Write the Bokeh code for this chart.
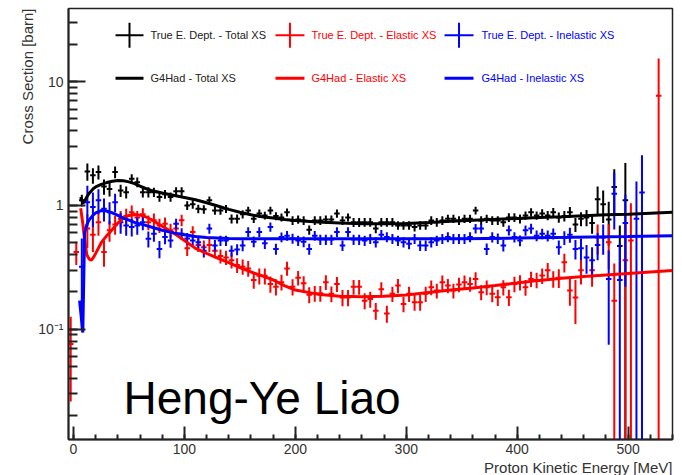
import numpy as np
from bokeh.plotting import figure
from bokeh.models import Range1d, LogTicker, SingleIntervalTicker, CustomJSTickFormatter, Label, Title
from bokeh.embed import file_html
from bokeh.resources import INLINE

FONT = "Liberation Sans"

# ---------------- data ----------------
bin_half_width = 2.5
energy = [-2.5 + 5.0 * i for i in range(107)]  # bin centres [MeV]

total_xs = [None, None, 1.10, 1.88, 1.75, 1.86, 1.42, 1.36, 1.86, 1.32,
            1.28, 1.64, 1.54, 1.28, 1.28, 1.28, 1.17, 1.23, 1.17, 1.30,
            1.30, 1.00, 1.02, 0.94, 0.93, 1.10, 0.91, 0.91, 0.94, 0.78,
            0.78, 0.85, 0.91, 0.78, 0.86, 0.83, 0.91, 0.82, 0.80, 0.88,
            0.756, 0.77, 0.756, 0.635, 0.756, 0.756, 0.77, 0.77, 0.86, 0.756,
            0.80, 0.73, 0.73, 0.733, 0.733, 0.65, 0.733, 0.733, 0.733, 0.69,
            0.69, 0.69, 0.67, 0.69, 0.69, 0.756, 0.733, 0.756, 0.78, 0.78,
            0.756, 0.78, 0.78, 0.91, 0.756, 0.78, 0.756, 0.756, 0.733, 0.80,
            0.80, 0.78, 0.83, 0.88, 0.83, 0.86, 0.83, 0.88, 0.80, 0.82,
            0.88, 0.70, 0.78, 0.80, 0.72, 1.12, 1.02, 0.77, 1.41, 0.47,
            1.10, None, None, None, None, None, None]
total_err = [None, None, 0.12, 0.30, 0.25, 0.24, 0.20, 0.18, 0.20, 0.15,
             0.14, 0.15, 0.14, 0.12, 0.12, 0.11, 0.10, 0.10, 0.10, 0.10,
             0.10, 0.08, 0.08, 0.075, 0.075, 0.08, 0.07, 0.07, 0.07, 0.065,
             0.065, 0.065, 0.065, 0.06, 0.065, 0.06, 0.065, 0.06, 0.06, 0.065,
             0.06, 0.06, 0.06, 0.055, 0.06, 0.06, 0.06, 0.06, 0.065, 0.06,
             0.06, 0.06, 0.06, 0.06, 0.06, 0.055, 0.06, 0.06, 0.06, 0.055,
             0.055, 0.055, 0.055, 0.055, 0.055, 0.06, 0.06, 0.06, 0.06, 0.06,
             0.06, 0.06, 0.06, 0.065, 0.06, 0.06, 0.06, 0.06, 0.06, 0.065,
             0.065, 0.065, 0.065, 0.07, 0.065, 0.07, 0.07, 0.075, 0.075, 0.08,
             0.09, 0.09, 0.10, 0.12, 0.13, 0.30, 0.30, 0.30, 0.55, 0.22,
             1.10, None, None, None, None, None, None]

elastic_xs = [0.076, 0.42, None, 0.65, 0.58, 0.73, 0.42, 0.63, 0.70, 0.78,
              0.82, 0.88, 0.80, 0.85, 0.73, 0.76, 0.69, 0.71, 0.63, 0.65,
              0.76, 0.45, 0.61, 0.48, 0.46, 0.48, 0.43, 0.39, 0.38, 0.36,
              0.33, 0.32, 0.31, 0.25, 0.27, 0.27, 0.232, 0.22, 0.24, 0.31,
              0.22, 0.26, 0.235, 0.19, 0.195, 0.195, 0.24, 0.193, 0.232, 0.18,
              0.18, 0.22, 0.22, 0.17, 0.175, 0.141, 0.21, 0.134, 0.193, 0.225,
              0.16, 0.193, 0.165, 0.165, 0.193, 0.218, 0.205, 0.239, 0.225, 0.205,
              0.23, 0.239, 0.232, 0.255, 0.199, 0.218, 0.193, 0.181, 0.218, 0.181,
              0.232, 0.239, 0.218, 0.255, 0.25, 0.271, 0.30, 0.255, 0.26, 0.347,
              0.205, 0.18, 0.30, None, 0.30, 0.55, None, 0.505, 0.17, None,
              0.36, 0.52, None, None, None, None, 7.7]
elastic_err = [0.05, 0.09, None, 0.20, 0.16, 0.16, 0.10, 0.12, 0.12, 0.12,
               0.12, 0.12, 0.10, 0.10, 0.10, 0.10, 0.09, 0.09, 0.08, 0.08,
               0.08, 0.06, 0.07, 0.06, 0.06, 0.06, 0.055, 0.05, 0.05, 0.05,
               0.045, 0.045, 0.045, 0.038, 0.04, 0.04, 0.035, 0.033, 0.035, 0.04,
               0.033, 0.035, 0.033, 0.028, 0.028, 0.028, 0.033, 0.028, 0.032, 0.027,
               0.027, 0.03, 0.03, 0.025, 0.026, 0.022, 0.029, 0.021, 0.027, 0.03,
               0.023, 0.027, 0.024, 0.024, 0.027, 0.03, 0.028, 0.032, 0.03, 0.028,
               0.031, 0.032, 0.031, 0.034, 0.028, 0.03, 0.028, 0.027, 0.031, 0.027,
               0.033, 0.034, 0.032, 0.036, 0.036, 0.039, 0.042, 0.039, 0.045, 0.06,
               0.05, 0.07, 0.07, None, 0.08, 0.15, None, 0.20, 0.17, None,
               0.36, 0.52, None, None, None, None, 7.7]

inelastic_xs = [None, None, 0.32, 1.06, 0.97, 1.10, 0.94, 0.88, 1.06, 0.73,
                0.69, 0.67, 0.69, 0.73, 0.537, 0.59, 0.445, 0.555, 0.52, 0.71,
                0.59, 0.54, 0.52, 0.505, 0.43, 0.65, 0.475, 0.52, 0.52, 0.43,
                0.44, 0.475, 0.61, 0.51, 0.61, 0.495, 0.67, 0.445, 0.555, 0.57,
                0.54, 0.52, 0.51, 0.445, 0.57, 0.53, 0.53, 0.53, 0.61, 0.475,
                0.61, 0.53, 0.53, 0.52, 0.537, 0.505, 0.58, 0.555, 0.537, 0.52,
                0.505, 0.49, 0.537, 0.475, 0.475, 0.505, 0.52, 0.537, 0.555, 0.537,
                0.537, 0.537, 0.555, 0.65, 0.65, 0.445, 0.555, 0.54, 0.475, 0.63,
                0.555, 0.52, 0.63, 0.65, 0.57, 0.59, 0.57, 0.59, 0.46, 0.55,
                0.58, 0.445, 0.45, 0.38, 0.36, 0.48, 0.55, 0.255, 1.24, 0.25,
                0.72, None, 0.78, 1.27, None, None, None]
inelastic_err = [None, None, 0.22, 0.38, 0.30, 0.25, 0.20, 0.18, 0.18, 0.14,
                 0.12, 0.11, 0.11, 0.10, 0.08, 0.08, 0.07, 0.07, 0.065, 0.07,
                 0.065, 0.06, 0.055, 0.055, 0.05, 0.06, 0.05, 0.05, 0.05, 0.045,
                 0.045, 0.048, 0.055, 0.05, 0.055, 0.05, 0.058, 0.045, 0.05, 0.052,
                 0.05, 0.05, 0.05, 0.045, 0.052, 0.05, 0.05, 0.05, 0.055, 0.047,
                 0.055, 0.05, 0.05, 0.05, 0.05, 0.048, 0.053, 0.052, 0.05, 0.05,
                 0.048, 0.048, 0.05, 0.047, 0.047, 0.048, 0.05, 0.05, 0.052, 0.05,
                 0.05, 0.05, 0.052, 0.058, 0.058, 0.047, 0.053, 0.052, 0.05, 0.058,
                 0.053, 0.052, 0.06, 0.06, 0.057, 0.058, 0.058, 0.06, 0.06, 0.07,
                 0.08, 0.08, 0.09, 0.10, 0.10, 0.12, 0.15, 0.18, 0.60, 0.25,
                 0.50, None, 0.78, 1.27, None, None, None]

# G4Had model curves
g4_energy = [6.5, 8.5, 10, 12, 14, 16, 18, 20, 25, 30, 35, 40, 45, 50, 55, 60, 65, 70,
             80, 90, 100, 110, 120, 130, 140, 150, 160, 170, 180, 190, 200, 220, 240,
             260, 280, 300, 320, 340, 360, 380, 400, 420, 440, 460, 480, 500, 520, 540]
g4_total = [1.17, 1.04, 1.08, 1.17, 1.25, 1.31, 1.37, 1.41, 1.48, 1.53, 1.57, 1.59, 1.58,
            1.55, 1.50, 1.43, 1.37, 1.32, 1.26, 1.21, 1.16, 1.11, 1.05, 0.99, 0.93, 0.88,
            0.84, 0.81, 0.79, 0.77, 0.756, 0.735, 0.72, 0.712, 0.71, 0.715, 0.728, 0.745,
            0.76, 0.772, 0.785, 0.80, 0.81, 0.825, 0.84, 0.85, 0.865, 0.88]
g4_elastic = [0.95, 0.70, 0.53, 0.40, 0.37, 0.36, 0.38, 0.41, 0.50, 0.57, 0.64, 0.72, 0.79,
              0.83, 0.845, 0.835, 0.81, 0.77, 0.68, 0.60, 0.52, 0.45, 0.41, 0.375, 0.345,
              0.315, 0.29, 0.27, 0.25, 0.225, 0.207, 0.192, 0.185, 0.183, 0.185, 0.189,
              0.198, 0.207, 0.215, 0.225, 0.236, 0.248, 0.258, 0.266, 0.274, 0.282, 0.29, 0.298]
g4_inel_energy = [5.5, 8.4, 10, 12, 14, 16, 18, 20, 25, 30, 35, 40, 45, 50, 55, 60, 65, 70,
                  80, 90, 100, 110, 120, 130, 140, 150, 160, 200, 250, 300, 350, 400, 450,
                  500, 540]
g4_inelastic = [0.17, 0.094, 0.60, 0.70, 0.76, 0.80, 0.84, 0.87, 0.91, 0.90, 0.87, 0.83,
                0.79, 0.76, 0.73, 0.71, 0.69, 0.67, 0.63, 0.60, 0.58, 0.56, 0.55, 0.545,
                0.54, 0.538, 0.537, 0.537, 0.537, 0.537, 0.539, 0.545, 0.552, 0.56, 0.57]

x_ticks_step = 100

# ---------------- figure ----------------
p = figure(width=682, height=475,
           x_range=Range1d(-4.5, 540.0), y_range=Range1d(0.01285, 39.0),
           y_axis_type="log", output_backend="svg", toolbar_location=None,
           min_border_left=68, min_border_right=10, min_border_top=8, min_border_bottom=36)
p.background_fill_color = "white"
p.border_fill_color = "white"
p.grid.visible = False
p.outline_line_color = "#222222"
p.outline_line_width = 1.5

xa = p.xaxis[0]
xa.ticker = SingleIntervalTicker(interval=x_ticks_step, num_minor_ticks=5)
xa.axis_line_width = 2
xa.axis_line_color = "#222222"
xa.major_tick_in = 13
xa.major_tick_out = 0
xa.minor_tick_in = 5
xa.minor_tick_out = 0
xa.major_tick_line_width = 2
xa.minor_tick_line_width = 2
xa.major_tick_line_color = "#222222"
xa.minor_tick_line_color = "#222222"
xa.major_label_standoff = 4
xa.major_label_text_font = FONT
xa.major_label_text_font_size = "14px"
xa.major_label_text_color = "#333333"

ya = p.yaxis[0]
ya.ticker = LogTicker(num_minor_ticks=10)
ya.formatter = CustomJSTickFormatter(code="""
const e = Math.round(Math.log10(tick));
if (e === 0) return "1";
if (e === 1) return "10";
if (e === -1) return "10\u207b\u00b9";
return "";
""")
ya.axis_line_width = 2
ya.axis_line_color = "#222222"
ya.major_tick_in = 17
ya.major_tick_out = 0
ya.minor_tick_in = 9
ya.minor_tick_out = 0
ya.major_tick_line_width = 2
ya.minor_tick_line_width = 2
ya.major_tick_line_color = "#222222"
ya.minor_tick_line_color = "#222222"
ya.major_label_standoff = 5
ya.major_label_text_font = FONT
ya.major_label_text_font_size = "14px"
ya.major_label_text_color = "#333333"

# ---------------- axis titles (ROOT style: at the end of the axis) ----------------
p.add_layout(Title(text="Proton Kinetic Energy [MeV]", align="right", standoff=0,
                   text_font=FONT, text_font_size="15px", text_font_style="normal",
                   text_color="#333333"), "below")
p.add_layout(Title(text="Cross Section [barn]", align="right", standoff=0,
                   text_font=FONT, text_font_size="15px", text_font_style="normal",
                   text_color="#333333"), "left")

# ---------------- data crosses ----------------
def draw_points(vals, errs, color):
    x = np.array(energy, dtype=float)
    v = np.array(vals, dtype=float)
    e = np.array(errs, dtype=float)
    m = ~np.isnan(v)
    x, v, e = x[m], v[m], e[m]
    lo = np.maximum(v - e, 1e-4)
    hi = v + e
    p.segment(x0=x, y0=lo, x1=x, y1=hi, line_color=color, line_width=2)
    p.segment(x0=x - bin_half_width, y0=v, x1=x + bin_half_width, y1=v,
              line_color=color, line_width=2)

draw_points(total_xs, total_err, "#000000")
draw_points(elastic_xs, elastic_err, "#ff0000")
draw_points(inelastic_xs, inelastic_err, "#0000ff")

p.line(g4_energy, g4_total, line_color="#000000", line_width=3)
p.line(g4_energy, g4_elastic, line_color="#ff0000", line_width=3)
p.line(g4_inel_energy, g4_inelastic, line_color="#0000ff", line_width=3)

# ---------------- legend (manual, ROOT style) ----------------
legend_cols = [
    (37.9, 63.1, 69.4, "True E. Dept. - Total XS", "G4Had - Total XS", "#000000", "#222222"),
    (182.1, 208.2, 214.5, "True E. Dept. - Elastic XS", "G4Had - Elastic XS", "#ff0000", "#ff0000"),
    (334.5, 360.6, 367.8, "True E. Dept. - Inelastic XS", "G4Had - Inelastic XS", "#0000ff", "#0000ff"),
]
row1_y, row2_y = 23.7, 10.67
cross_lo, cross_hi = 18.75, 29.85
for x0, x1, xt, t1, t2, col, tcol in legend_cols:
    p.segment(x0=[x0], y0=[row1_y], x1=[x1], y1=[row1_y], line_color=col, line_width=2)
    p.segment(x0=[(x0 + x1) / 2], y0=[cross_lo], x1=[(x0 + x1) / 2], y1=[cross_hi],
              line_color=col, line_width=2)
    p.segment(x0=[x0], y0=[row2_y], x1=[x1], y1=[row2_y], line_color=col, line_width=3)
    p.add_layout(Label(x=xt, y=row1_y, text=t1, text_baseline="middle", text_align="left",
                       text_font=FONT, text_font_size="11px", text_color=tcol))
    p.add_layout(Label(x=xt, y=row2_y, text=t2, text_baseline="middle", text_align="left",
                       text_font=FONT, text_font_size="11px", text_color=tcol))

# ---------------- watermark ----------------
p.add_layout(Label(x=45.1, y=0.0276, text="Heng-Ye Liao", text_align="left",
                   text_baseline="alphabetic", text_font=FONT, text_font_size="46px",
                   text_color="#000000"))

open("out.html", "w").write(file_html(p, INLINE))
